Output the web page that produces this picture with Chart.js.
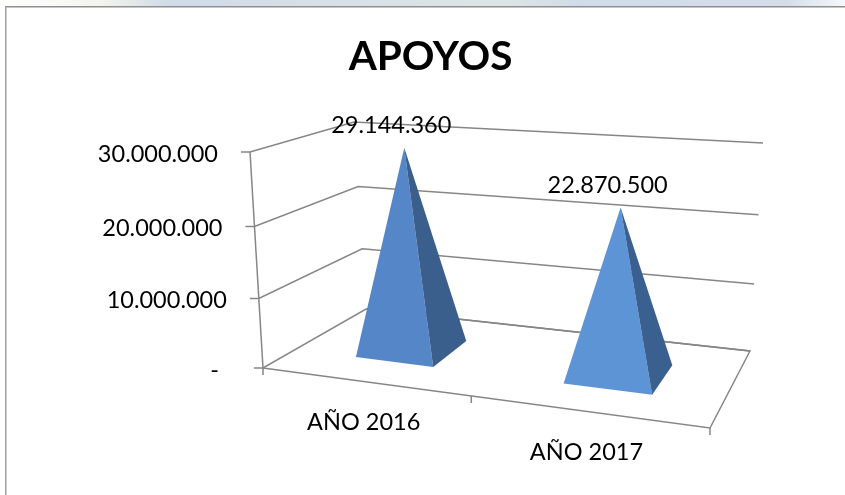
<!DOCTYPE html>
<html>
<head>
<meta charset="utf-8">
<title>APOYOS</title>
<script src="https://cdn.jsdelivr.net/npm/chart.js@4"></script>
<style>
    html, body { margin: 0; padding: 0; background: #fff; }
    canvas { display: block; }
</style>
</head>
<body>
<canvas id="apoyosChart" width="845" height="495"></canvas>
<script>
const categories = ['AÑO 2016', 'AÑO 2017'];
const apoyos = [29144360, 22870500];
const valueLabels = ['29.144.360', '22.870.500'];
const yTickLabels = ['-', '10.000.000', '20.000.000', '30.000.000'];

// ── 3D box the plot sits in, as seen in the picture ───────────────
const box = {
    floor: { fl: [263, 368], fr: [710, 428], bl: [366, 309], br: [750, 351] },
    top: { fl: [250, 152], fr: [713, 175], bl: [354, 122], br: [763, 143] },
};
const perspective = 1.146;
const heightPerspective = 1.053;
const pyramidHalfWidth = 0.097;
const pyramidShift = 0.006;
const pyramidDepth = [0.315, 0.715];
const axisColor = '#868686';
const leftFaces = ['#5587c8', '#5c94d5'];
const rightFaces = ['#3a5f8c', '#3a608f'];
const font = 'Lato, sans-serif';

const mix = (a, b, t) => [a[0] + (b[0] - a[0]) * t, a[1] + (b[1] - a[1]) * t];
const warp = (t, k) => t / (t + k * (1 - t));

// u: 0-1 across categories, d: 0 front to 1 back, h: 0-1 up the value axis
const project = (u, d, h) => {
    const w = warp(u, perspective);
    const plane = (p) => mix(mix(p.fl, p.fr, w), mix(p.bl, p.br, w), d);
    return mix(plane(box.floor), plane(box.top), warp(h, heightPerspective));
};

const polyline = (ctx, pts) => {
    ctx.beginPath();
    pts.forEach((p, i) => (i ? ctx.lineTo(p[0], p[1]) : ctx.moveTo(p[0], p[1])));
};

const heightOf = (chart, value) => {
    const y = chart.scales.y;
    return (y.bottom - y.getPixelForValue(value)) / (y.bottom - y.top);
};
const acrossOf = (chart, index) => {
    const x = chart.scales.x;
    return (x.getPixelForValue(index) - x.left) / (x.right - x.left);
};

const frame = {
    id: 'frame',
    beforeDraw(chart) {
        const ctx = chart.ctx;
        const g = ctx.createLinearGradient(0, 0, chart.width, 0);
        g.addColorStop(0, '#ffffff');
        g.addColorStop(0.12, '#f4f4ee');
        g.addColorStop(0.2, '#cfdbe8');
        g.addColorStop(0.6, '#dde6e6');
        g.addColorStop(0.68, '#d0dce9');
        g.addColorStop(0.93, '#d3dee9');
        g.addColorStop(1, '#f6f8fa');
        ctx.save();
        ctx.fillStyle = g;
        ctx.fillRect(0, 0, chart.width, 6);
        ctx.fillStyle = '#8f8f8f';
        ctx.fillRect(5, 6, chart.width - 5, 1.5);
        ctx.fillStyle = '#a0a0a0';
        ctx.fillRect(5, 6, 1.5, chart.height - 6);
        ctx.restore();
    },
};

const walls = {
    id: 'walls',
    beforeDatasetsDraw(chart) {
        const ctx = chart.ctx;
        const yScale = chart.scales.y;
        ctx.save();
        ctx.strokeStyle = axisColor;
        ctx.lineWidth = 1.5;
        ctx.fillStyle = '#000';
        ctx.font = `23.5px ${font}`;
        ctx.textBaseline = 'middle';
        ctx.textAlign = 'right';
        yScale.ticks.forEach((tick) => {
            const h = heightOf(chart, tick.value);
            const front = project(0, 0, h);
            // gridline over left wall and back wall, with outer tick mark
            polyline(ctx, [[front[0] - 9, front[1]], front, project(0, 1, h), project(1, 1, h)]);
            ctx.stroke();
            // the zero label is padded by the number format
            const pad = tick.value === 0 ? 35 : 23;
            ctx.fillText(tick.label, front[0] - 9 - pad, front[1] + 2);
        });
        // value axis and floor outline
        polyline(ctx, [project(0, 0, 1), project(0, 0, 0)]);
        ctx.stroke();
        polyline(ctx, [project(0, 1, 0), project(1, 1, 0), project(1, 0, 0), project(0, 0, 0)]);
        ctx.stroke();
        // category ticks below the front edge
        [0, 0.5, 1].forEach((u) => {
            const p = project(u, 0, 0);
            polyline(ctx, [p, [p[0], p[1] + 7]]);
            ctx.stroke();
        });
        ctx.textAlign = 'center';
        chart.scales.x.getLabels().forEach((label, i) => {
            const p = project(acrossOf(chart, i), 0, 0);
            ctx.fillText(label, p[0], p[1] + 41);
        });
        ctx.restore();
    },
};

const pyramids = {
    id: 'pyramids',
    afterDatasetsDraw(chart) {
        const ctx = chart.ctx;
        const values = chart.data.datasets[0].data;
        ctx.save();
        values.forEach((value, i) => {
            const u = acrossOf(chart, i) + pyramidShift;
            const mid = (pyramidDepth[0] + pyramidDepth[1]) / 2;
            const apex = project(u, mid, heightOf(chart, value));
            const fl = project(u - pyramidHalfWidth, pyramidDepth[0], 0);
            const fr = project(u + pyramidHalfWidth, pyramidDepth[0], 0);
            const br = project(u + pyramidHalfWidth, pyramidDepth[1], 0);
            ctx.fillStyle = leftFaces[i];
            polyline(ctx, [apex, fl, fr]);
            ctx.closePath();
            ctx.fill();
            ctx.fillStyle = rightFaces[i];
            polyline(ctx, [apex, fr, br]);
            ctx.closePath();
            ctx.fill();
            ctx.fillStyle = '#000';
            ctx.font = `23.5px ${font}`;
            ctx.textAlign = 'center';
            ctx.textBaseline = 'middle';
            ctx.fillText(valueLabels[i], apex[0] - 13, apex[1] - 22);
        });
        ctx.restore();
    },
};

new Chart(document.getElementById('apoyosChart'), {
    type: 'bar',
    data: {
        labels: categories,
        datasets: [{ label: 'APOYOS', data: apoyos, backgroundColor: 'transparent', borderWidth: 0 }],
    },
    options: {
        responsive: false,
        animation: false,
        events: [],
        layout: { padding: { left: 16, top: 0, right: 0, bottom: 60 } },
        plugins: {
            legend: { display: false },
            tooltip: { enabled: false },
            title: {
                display: true,
                text: 'APOYOS',
                color: '#000',
                font: { family: font, size: 40.5, weight: 'bold', lineHeight: 1.2 },
                padding: { top: 33, bottom: 20 },
            },
        },
        scales: {
            x: { display: false },
            y: {
                display: false,
                min: 0,
                max: 30000000,
                ticks: { stepSize: 10000000, callback: (v, i) => yTickLabels[i] },
            },
        },
    },
    plugins: [frame, walls, pyramids],
});
</script>
</body>
</html>
